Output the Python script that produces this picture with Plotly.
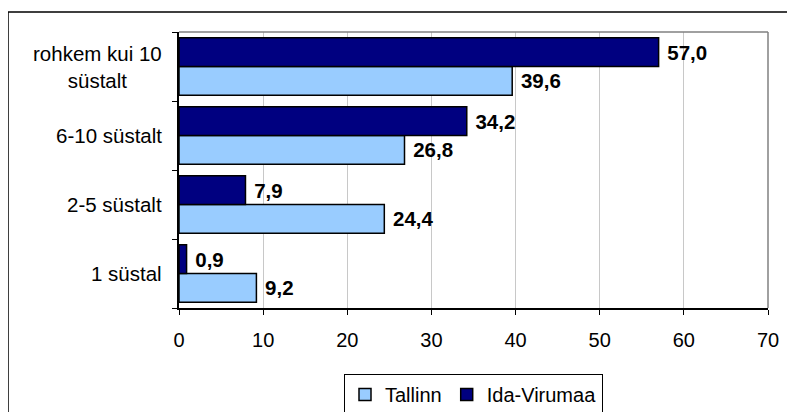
import plotly.graph_objects as go

categories = ["1 süstal", "2-5 süstalt", "6-10 süstalt", "rohkem kui 10<br>süstalt"]
tallinn = [9.2, 24.4, 26.8, 39.6]
ida_virumaa = [0.9, 7.9, 34.2, 57.0]
x_ticks = [0, 10, 20, 30, 40, 50, 60, 70]

FONT = "Liberation Sans, Arial, sans-serif"
FS = 20

fig = go.Figure()
fig.add_trace(go.Bar(
    y=categories, x=tallinn, orientation="h", name="Tallinn",
    marker=dict(color="#99CCFF", line=dict(color="#000000", width=1.5)),
    text=tallinn, texttemplate="\u00a0%{x:.1f}", textposition="outside",
    textfont=dict(family=FONT, size=20.5, color="#000000", weight="bold"),
    cliponaxis=False,
))
fig.add_trace(go.Bar(
    y=categories, x=ida_virumaa, orientation="h", name="Ida-Virumaa",
    marker=dict(color="#000080", line=dict(color="#000000", width=1.5)),
    text=ida_virumaa, texttemplate="\u00a0%{x:.1f}", textposition="outside",
    textfont=dict(family=FONT, size=20.5, color="#000000", weight="bold"),
    cliponaxis=False,
))

for c in categories:
    fig.add_annotation(
        x=0, xref="paper", y=c, yref="y", text=c, showarrow=False,
        xanchor="right", align="center", xshift=-15,
        font=dict(family=FONT, size=20.5, color="#000000"),
    )

# plot area top/right grey border
fig.add_shape(type="line", xref="x domain", yref="y domain", x0=0, x1=1, y0=1, y1=1,
              line=dict(color="#808080", width=1.5))
fig.add_shape(type="line", xref="x domain", yref="y domain", x0=1, x1=1, y0=0, y1=1,
              line=dict(color="#808080", width=1.5))
# outer chart frame
fig.add_shape(type="rect", xref="paper", yref="paper",
              x0=-171 / 589, x1=1.1, y0=-110 / 276, y1=1 + 20 / 276,
              line=dict(color="#000000", width=1.5), fillcolor="rgba(0,0,0,0)", layer="below")

fig.update_layout(
    width=795, height=412,
    margin=dict(l=171, r=35, t=24, b=112, autoexpand=False),
    paper_bgcolor="white", plot_bgcolor="white",
    barmode="group", bargap=0.165, bargroupgap=0,
    separators=",.",
    font=dict(family=FONT, size=FS, color="#000000"),
    showlegend=True,
    legend=dict(
        orientation="h", x=0.5, xanchor="center",
        yref="container", y=(412 - 366) / 412, yanchor="top",
        bordercolor="#000000", borderwidth=1, bgcolor="white",
        font=dict(family=FONT, size=FS, color="#000000"),
        traceorder="normal", itemwidth=30,
    ),
    xaxis=dict(
        range=[0, 70], tickvals=x_ticks, ticktext=[str(v) for v in x_ticks],
        showgrid=True, gridcolor="#C8C8C8", gridwidth=1,
        showline=True, linecolor="#000000", linewidth=1.5,
        ticks="outside", ticklen=5, tickcolor="#000000", ticklabelstandoff=8,
        zeroline=False, tickfont=dict(family=FONT, size=FS),
    ),
    yaxis=dict(
        showgrid=False, showline=True, linecolor="#000000", linewidth=1.5,
        ticks="outside", ticklen=5, tickcolor="#000000", tickson="boundaries",
        showticklabels=False, categoryorder="array", categoryarray=categories,
    ),
)

fig.write_html("out.html")
